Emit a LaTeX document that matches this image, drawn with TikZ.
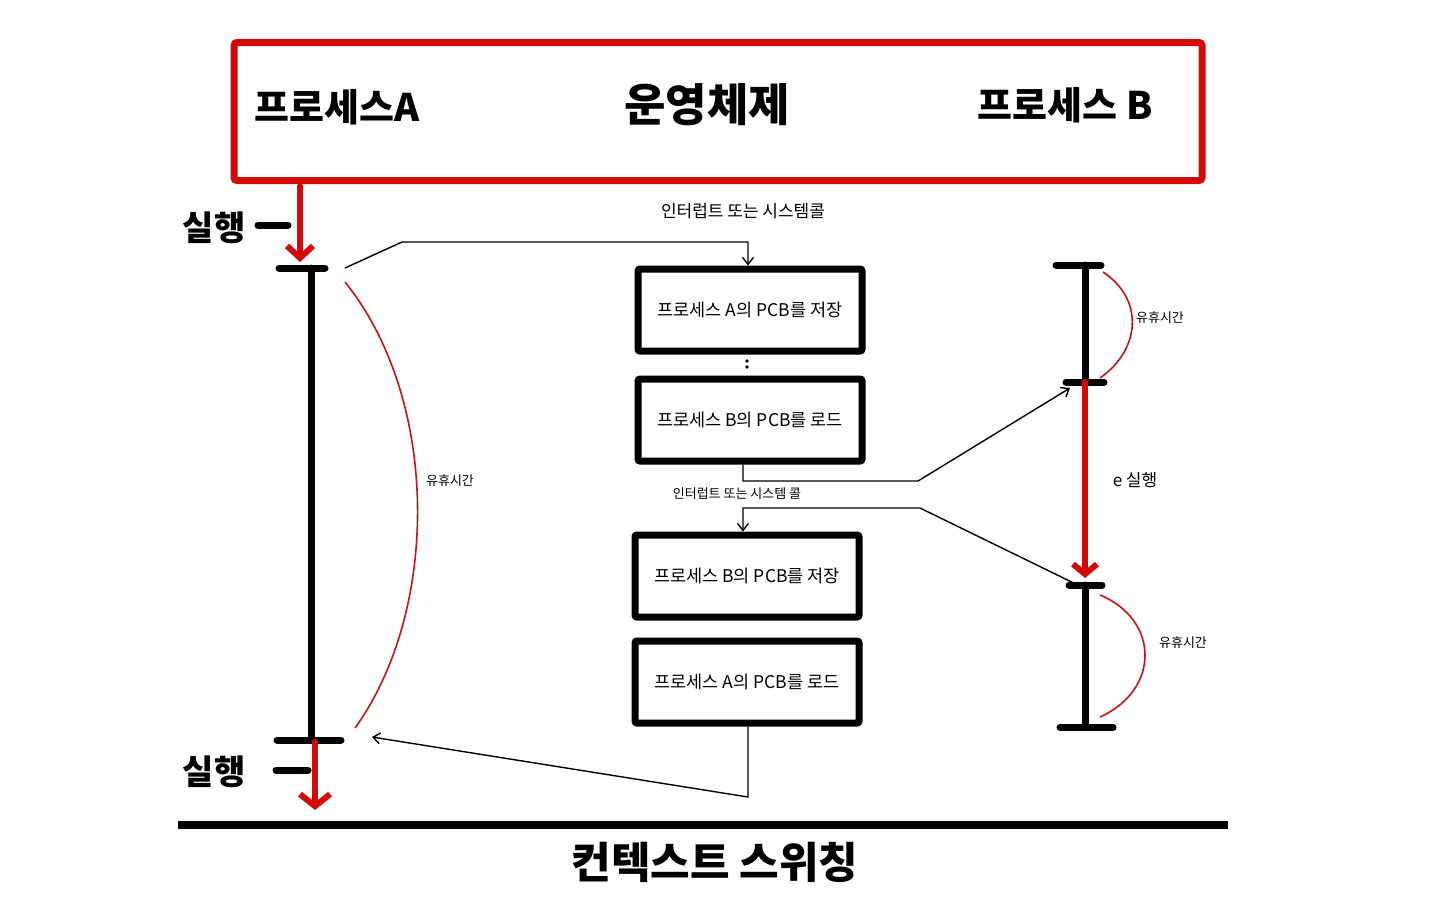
\documentclass[tikz,border=0pt]{standalone}
\usepackage{fontspec}
\setmainfont{Noto Sans CJK KR}
\usetikzlibrary{arrows.meta}
\begin{document}
\begin{tikzpicture}[x=1pt,y=-1pt,
  thickbk/.style={line width=7pt,line cap=round},
  redthick/.style={draw={rgb,255:red,210;green,10;blue,10},line width=6pt,line cap=round},
  redthin/.style={draw={rgb,255:red,200;green,20;blue,20},line width=1.6pt},
  conn/.style={line width=1.4pt,-{Straight Barb[length=7pt,width=11pt]}},
  pbox/.style={draw,line width=7pt,rounded corners=2pt,minimum width=224pt,minimum height=82pt,font=\fontsize{17.5}{20}\selectfont},
  big/.style={font=\fontsize{38}{44}\selectfont\bfseries},
  small/.style={font=\fontsize{17}{20}\selectfont},
  tiny/.style={font=\fontsize{13}{15}\selectfont}]
\useasboundingbox (0,0) rectangle (1440,900);
\fill[white] (0,0) rectangle (1440,900);
% header
\node[draw={rgb,255:red,210;green,10;blue,10},line width=7pt,rounded corners=3pt,minimum width=968pt,minimum height=138pt] (hdr) at (718,111.5) {};
\node[big] (pa) at (337,107) {프로세스A};
\node[big,font=\fontsize{45}{50}\selectfont\bfseries] (os) at (707,105) {운영체제};
\node[big] (pb) at (1065,105) {프로세스 B};
% left timeline
\coordinate (lt) at (311,268);
\coordinate (lb) at (311,740);
\draw[thickbk] (lt) -- (lb);
\draw[thickbk] (279,268) -- (325,268);
\draw[thickbk] (277,740) -- (341,740);
\draw[thickbk] (276,770) -- (308,770);
\draw[thickbk] (258,225) -- (288,225);
\draw[redthick,-{Straight Barb[length=12pt,width=26pt]}] (300,186) -- (300,262);
\draw[redthick,-{Straight Barb[length=12pt,width=30pt]}] (315,742) -- (315,810);
\node[font=\fontsize{34}{40}\selectfont\bfseries] (r1) at (214,228) {실행};
\node[font=\fontsize{34}{40}\selectfont\bfseries] (r2) at (214,772) {실행};
\draw[redthin] (345,282) .. controls (440,400) and (440,610) .. (355,728);
\node[tiny] (idle1) at (450,481) {유휴시간};
% middle boxes
\node[pbox] (b1) at (750,310) {프로세스 A의 PCB를 저장};
\node[pbox] (b2) at (750,420) {프로세스 B의 PCB를 로드};
\node[pbox] (b3) at (747,576) {프로세스 B의 PCB를 저장};
\node[pbox] (b4) at (747,682) {프로세스 A의 PCB를 로드};
\fill (747,361) circle (1.8pt) (747,367) circle (1.8pt);
\node[small] (int1) at (743,211) {인터럽트 또는 시스템콜};
\node[tiny] (int2) at (737,494) {인터럽트 또는 시스템 콜};
\coordinate (a1) at (345,268);
\draw[conn] (a1) -- (402,242) -- (748,242) -- (b1.north -| 748,0);
% right timeline
\coordinate (rt) at (1085,265);
\coordinate (rm1) at (1085,382);
\coordinate (rm2) at (1085,585);
\coordinate (rb) at (1085,727);
\draw[thickbk] (rt) -- (rm1);
\draw[thickbk] (rm2) -- (rb);
\draw[thickbk] (1056,265) -- (1101,265);
\draw[thickbk] (1066,382) -- (1104,382);
\draw[thickbk] (1069,585) -- (1102,585);
\draw[thickbk] (1060,727) -- (1113,727);
\draw[redthick,-{Straight Barb[length=10pt,width=24pt]}] (rm1) -- (1085,578);
\draw[redthin] (1103,272) .. controls (1145,300) and (1140,350) .. (1100,378);
\draw[redthin] (1100,595) .. controls (1160,620) and (1160,690) .. (1100,717);
\node[tiny] (idle2) at (1160,318) {유휴시간};
\node[tiny] (idle3) at (1183,643) {유휴시간};
\node[small] (run3) at (1135,480) {e 실행};
% connectors
\coordinate (c2) at (1070,388);
\draw[conn] (b2.south -| 743,0) -- (743,481) -- (918,481) -- (c2);
\coordinate (c3) at (1088,590);
\draw[conn] (c3) -- (920,508) -- (743,508) -- (b3.north -| 743,0);
\coordinate (c4) at (372,737);
\draw[conn] (b4.south -| 748,0) -- (748,797) -- (c4);
% bottom
\draw[line width=8pt] (178,825) -- (1228,825);
\node[font=\fontsize{43}{48}\selectfont\bfseries] (cs) at (715,862) {컨텍스트 스위칭};
\end{tikzpicture}
\end{document}
